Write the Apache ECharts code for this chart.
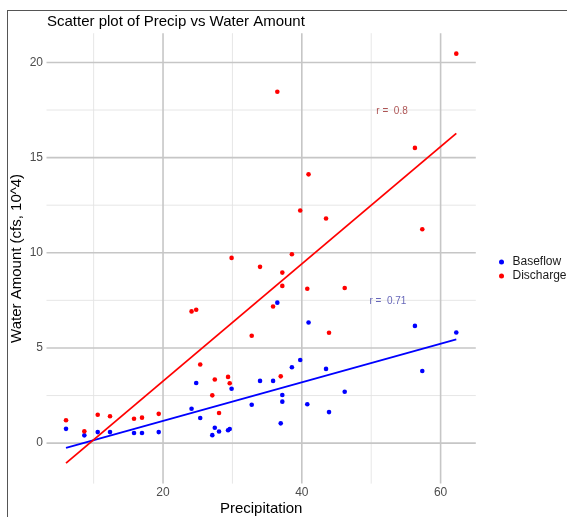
<!DOCTYPE html>
<html>
<head>
<meta charset="utf-8">
<script src="https://cdn.jsdelivr.net/npm/echarts@6/dist/echarts.min.js"></script>
<style>
html,body{margin:0;padding:0;background:#fff;}
#chart{width:567px;height:517px;}
</style>
</head>
<body>
<div id="chart"></div>
<script>
// ---- data ----
const precipitation = [6.02, 8.66, 10.59, 12.36, 15.82, 16.97, 19.38, 24.11, 24.78, 25.36, 27.10, 27.46, 28.07, 29.37, 29.61, 29.88, 32.78, 33.98, 35.86, 36.47, 36.96, 37.19, 37.19, 38.57, 39.77, 40.79, 40.97, 43.49, 43.92, 46.18, 56.30, 57.36, 62.26];
const baseflow = [0.75, 0.41, 0.58, 0.58, 0.53, 0.53, 0.58, 1.81, 3.16, 1.32, 0.42, 0.81, 0.61, 0.68, 0.74, 2.86, 2.02, 3.27, 3.27, 7.38, 1.04, 2.53, 2.18, 3.99, 4.37, 2.04, 6.34, 3.90, 1.63, 2.70, 6.16, 3.79, 5.81];
const discharge = [1.20, 0.62, 1.49, 1.41, 1.28, 1.34, 1.54, 6.92, 7.01, 4.13, 2.51, 3.34, 1.58, 3.48, 3.15, 9.73, 5.64, 9.26, 7.18, 18.46, 3.51, 8.96, 8.26, 9.92, 12.22, 8.11, 14.12, 11.80, 5.80, 8.15, 15.51, 11.24, 20.46];
const seriesNames = ['Baseflow', 'Discharge'];
const xMajorTicks = [20, 40, 60];
const xMinorTicks = [10, 30, 50];
const yMajorTicks = [0, 5, 10, 15, 20];
const yMinorTicks = [2.5, 7.5, 12.5, 17.5];
const annotX = [53.0, 52.4];
const annotY = [17.45, 7.45];
const annotText = ['r =  0.8', 'r =  0.71'];

// ---- derived ----
function fit(xs, ys) {
  const n = xs.length;
  let mx = 0, my = 0;
  for (let i = 0; i < n; i++) { mx += xs[i]; my += ys[i]; }
  mx /= n; my /= n;
  let sxy = 0, sxx = 0;
  for (let i = 0; i < n; i++) { sxy += (xs[i]-mx)*(ys[i]-my); sxx += (xs[i]-mx)*(xs[i]-mx); }
  const b = sxy / sxx, a = my - b*mx;
  return {a, b};
}
const xLo = Math.min(...precipitation), xHi = Math.max(...precipitation);
const fB = fit(precipitation, baseflow), fD = fit(precipitation, discharge);
const lineB = [[xLo, fB.a + fB.b*xLo], [xHi, fB.a + fB.b*xHi]];
const lineD = [[xLo, fD.a + fD.b*xLo], [xHi, fD.a + fD.b*xHi]];
const allY = baseflow.concat(discharge, lineB.map(p=>p[1]), lineD.map(p=>p[1]));
const yLo = Math.min(...allY), yHi = Math.max(...allY);
const xPad = (xHi-xLo)*0.05, yPad = (yHi-yLo)*0.05;

const FONT = '"Liberation Sans", Arial, Helvetica, sans-serif';
const BLUE = '#0000ff', RED = '#ff0000';

function gridSeries(ticks, vertical, color, width) {
  return {
    type: 'custom', silent: true, z: 0, animation: false,
    data: ticks.map(v => vertical ? [v, 0] : [xLo, v]),
    renderItem: function (params, api) {
      const cs = params.coordSys;
      if (vertical) {
        const x = api.coord([api.value(0), 0])[0];
        return {type: 'line', shape: {x1: x, y1: cs.y, x2: x, y2: cs.y + cs.height}, style: {stroke: color, lineWidth: width}};
      } else {
        const y = api.coord([xLo, api.value(1)])[1];
        return {type: 'line', shape: {x1: cs.x, y1: y, x2: cs.x + cs.width, y2: y}, style: {stroke: color, lineWidth: width}};
      }
    }
  };
}

const chart = echarts.init(document.getElementById('chart'), null, {renderer: 'canvas'});
chart.setOption({
  animation: false,
  backgroundColor: '#ffffff',
  textStyle: {fontFamily: FONT},
  title: {
    text: 'Scatter plot of Precip vs Water Amount',
    left: 47, top: 14, padding: 0,
    textStyle: {fontFamily: FONT, fontSize: 15, fontWeight: 'normal', color: '#000'}
  },
  graphic: [
    {type: 'line', shape: {x1: 7, y1: 10.5, x2: 567, y2: 10.5}, style: {stroke: '#555', lineWidth: 1}, silent: true},
    {type: 'line', shape: {x1: 7.5, y1: 10, x2: 7.5, y2: 517}, style: {stroke: '#555', lineWidth: 1}, silent: true}
  ],
  legend: {
    data: seriesNames,
    orient: 'vertical',
    left: 494, top: 251,
    itemWidth: 12, itemHeight: 5, itemGap: 2,
    icon: 'circle',
    textStyle: {fontFamily: FONT, fontSize: 12, color: '#1a1a1a'}
  },
  grid: {left: 46.5, right: 91.2, top: 33.2, bottom: 33.4, containLabel: false, outerBoundsMode: 'none'},
  xAxis: {
    type: 'value', min: xLo - xPad, max: xHi + xPad,
    name: 'Precipitation', nameLocation: 'middle', nameGap: 18, nameMoveOverlap: false,
    nameTextStyle: {fontFamily: FONT, fontSize: 15, color: '#000'},
    axisLine: {show: false}, axisTick: {show: false}, splitLine: {show: false},
    axisLabel: {customValues: xMajorTicks, margin: 3.5, fontSize: 12, color: '#4d4d4d', fontFamily: FONT}
  },
  yAxis: {
    type: 'value', min: yLo - yPad, max: yHi + yPad,
    name: 'Water Amount (cfs, 10^4)', nameLocation: 'middle', nameGap: 22, nameRotate: 90, nameMoveOverlap: false,
    nameTextStyle: {fontFamily: FONT, fontSize: 15, color: '#000'},
    axisLine: {show: false}, axisTick: {show: false}, splitLine: {show: false},
    axisLabel: {customValues: yMajorTicks, margin: 3.5, fontSize: 12, color: '#4d4d4d', fontFamily: FONT}
  },
  series: [
    gridSeries(xMinorTicks, true, '#e3e3e3', 0.9),
    gridSeries(yMinorTicks, false, '#e3e3e3', 0.9),
    gridSeries(xMajorTicks, true, '#c6c6c6', 1.6),
    gridSeries(yMajorTicks, false, '#c6c6c6', 1.6),
    {
      name: 'Baseflow', type: 'scatter', z: 3,
      data: precipitation.map((x, i) => [x, baseflow[i]]),
      symbol: 'circle', symbolSize: 4.6, itemStyle: {color: BLUE, opacity: 1}
    },
    {
      name: 'Discharge', type: 'scatter', z: 3,
      data: precipitation.map((x, i) => [x, discharge[i]]),
      symbol: 'circle', symbolSize: 4.6, itemStyle: {color: RED, opacity: 1}
    },
    {
      name: 'fitB', type: 'line', z: 4, data: lineB, showSymbol: false, symbol: 'none',
      lineStyle: {color: BLUE, width: 1.8}, silent: true
    },
    {
      name: 'fitD', type: 'line', z: 4, data: lineD, showSymbol: false, symbol: 'none',
      lineStyle: {color: RED, width: 1.8}, silent: true
    },
    {
      name: 'annot', type: 'scatter', z: 5, silent: true, symbolSize: 0,
      data: annotX.map((x, i) => ({
        value: [x, annotY[i]],
        label: {show: true, position: 'inside', formatter: annotText[i], fontSize: 10, fontFamily: FONT,
                color: i === 0 ? '#9a2b2b' : '#4040a8'}
      }))
    }
  ]
});
</script>
</body>
</html>
